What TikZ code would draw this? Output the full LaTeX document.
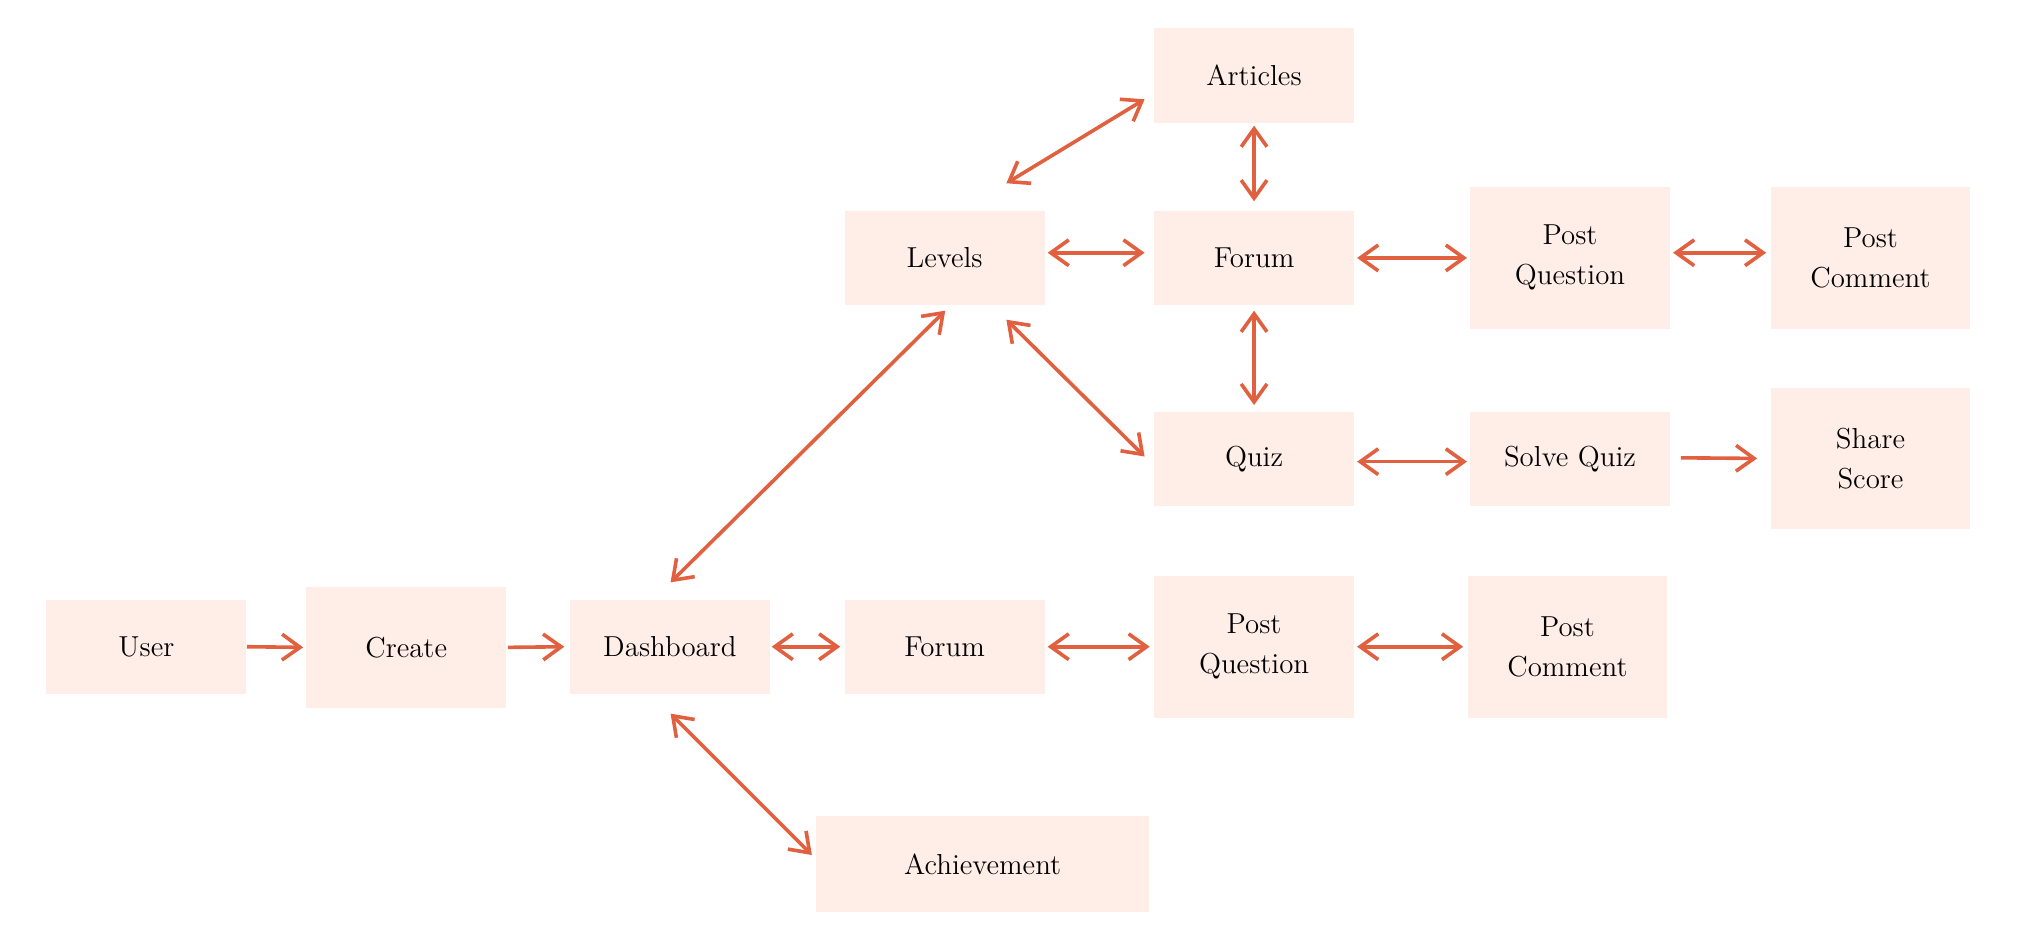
\documentclass[tikz,border=0pt]{standalone}
\usetikzlibrary{arrows.meta}
\definecolor{boxfill}{HTML}{FFEDE7}
\definecolor{arrcol}{HTML}{E0603F}
\begin{document}
\begin{tikzpicture}[x=0.5pt,y=-0.5pt,
  box/.style={fill=boxfill, draw=none, inner sep=0pt, align=center,
    minimum width=77.5pt, minimum height=36.5pt,
    font=\fontsize{11.2}{15.5}\selectfont},
  tall/.style={box, minimum height=55pt},
  tip/.tip={Straight Barb[length=7pt,width=10pt]},
  arr/.style={draw=arrcol, line width=1.4pt, -tip},
  darr/.style={draw=arrcol, line width=1.4pt, tip-tip}]
\useasboundingbox (0,0) rectangle (1568,730.5);

\node[box] (user) at (113.5,501.5) {User};
\node[box, minimum height=47pt] (create) at (315,502) {Create};
\node[box] (dash) at (519.5,501.5) {Dashboard};
\node[box] (forumb) at (732.5,501.5) {Forum};
\node[tall] (pqb) at (972.5,501.5) {Post\\Question};
\node[tall] (pcb) at (1215.5,501.5) {Post\\Comment};
\node[box, minimum width=129pt, minimum height=37pt] (ach) at (762,670) {Achievement};
\node[box] (levels) at (732.5,200) {Levels};
\node[box] (articles) at (972.5,58.5) {Articles};
\node[box] (forumt) at (972.5,200) {Forum};
\node[tall] (pqt) at (1217.5,200) {Post\\Question};
\node[tall] (pct) at (1450.5,200) {Post\\Comment};
\node[box] (quiz) at (972.5,356) {Quiz};
\node[box] (solve) at (1217.5,356) {Solve Quiz};
\node[tall] (share) at (1450.5,355.5) {Share\\Score};

\draw[arr] (user.east) -- ([shift={(-2,0)}]create.west);
\draw[arr] ([shift={(1,0)}]create.east) -- ([shift={(-4,0)}]dash.west);
\draw[darr] ([shift={(1,0)}]dash.east) -- ([shift={(-3,0)}]forumb.west);
\draw[darr] ([shift={(2,0)}]forumb.east) -- ([shift={(-3,0)}]pqb.west);
\draw[darr] ([shift={(2,0)}]pqb.east) -- ([shift={(-3,0)}]pcb.west);
\draw[darr] ([shift={(0.5,-13)}]dash.north) -- ([shift={(0.5,4)}]levels.south);
\draw[darr] ([shift={(0.5,15)}]dash.south) -- ([shift={(-3,-7)}]ach.west);
\draw[darr] ([shift={(-30,-21)}]levels.north east) -- ([shift={(-7,18.5)}]articles.west);
\draw[darr] ([shift={(2,-4)}]levels.east) -- ([shift={(-7,-4)}]forumt.west);
\draw[darr] ([shift={(-30,11)}]levels.south east) -- ([shift={(-7,-2)}]quiz.west);
\draw[darr] ([shift={(0,2)}]articles.south) -- ([shift={(0,-7)}]forumt.north);
\draw[darr] ([shift={(0,4)}]forumt.south) -- ([shift={(0,-5)}]quiz.north);
\draw[darr] ([shift={(2,0)}]forumt.east) -- ([shift={(-2,0)}]pqt.west);
\draw[darr] ([shift={(2,-4)}]pqt.east) -- ([shift={(-3,-4)}]pct.west);
\draw[darr] ([shift={(2,2)}]quiz.east) -- ([shift={(-2,2)}]solve.west);
\draw[arr] ([shift={(8,-1)}]solve.east) -- ([shift={(-10,0)}]share.west);
\end{tikzpicture}
\end{document}
